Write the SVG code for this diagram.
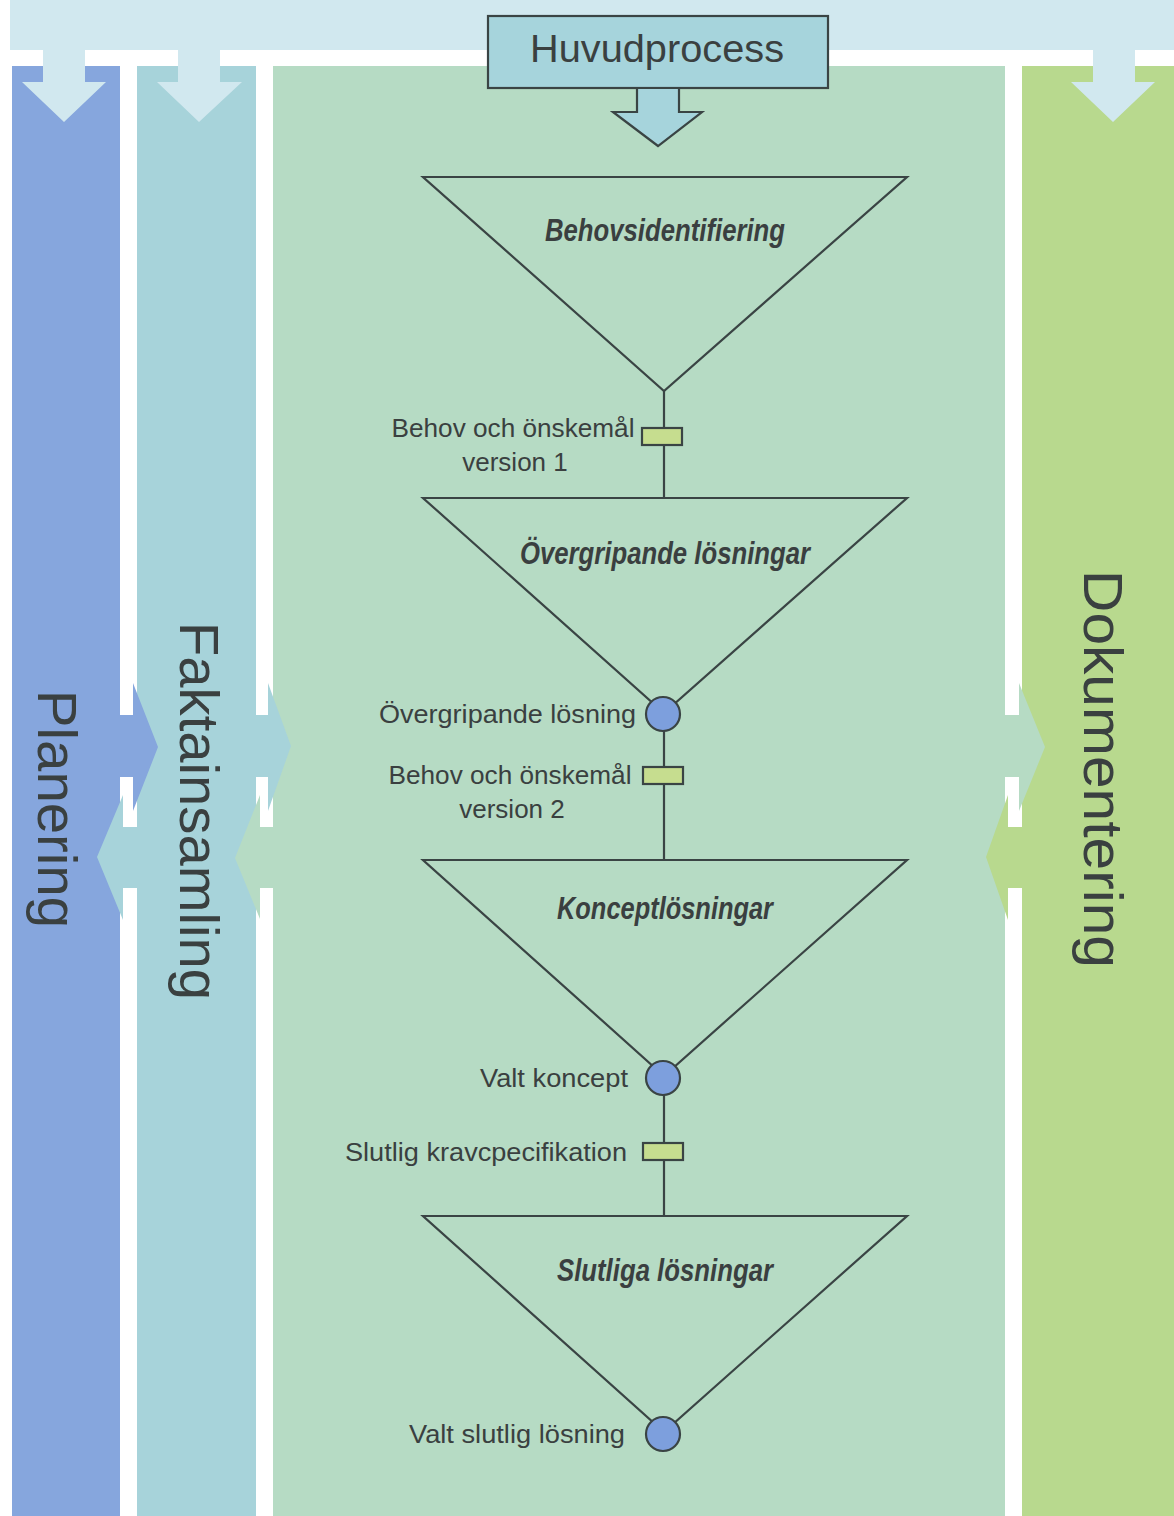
<svg xmlns="http://www.w3.org/2000/svg" width="1174" height="1516" viewBox="0 0 1174 1516">
<style>
.lbl{font-family:"Liberation Sans",Arial,sans-serif;font-size:26px;fill:#3a4040}
.ttl{font-family:"Liberation Sans Narrow","Liberation Sans",Arial,sans-serif;font-size:31px;font-weight:bold;font-style:italic;fill:#3a3f40}
.col{font-family:"Liberation Sans",Arial,sans-serif;font-size:56px;fill:#3a4040}
.tri{fill:none;stroke:#3a4444;stroke-width:2.2;stroke-linejoin:miter}
.line{stroke:#3a4444;stroke-width:2.2;fill:none}
.pt{fill:#7d9fdd;stroke:#3a4444;stroke-width:2.2}
.doc{fill:#c6dd8f;stroke:#3a4444;stroke-width:2.2}
</style>
<rect x="0" y="0" width="1174" height="1516" fill="#ffffff"/>
<g id="band">
<rect x="10" y="0" width="1164" height="50" fill="#d1e8ef"/>
</g>
<g id="planering">
<rect x="12" y="66" width="108" height="1450" fill="#86a6dd"/>
<polygon points="43,48 85,48 85,82 106,82 64,122 22,82 43,82" fill="#d1e8ef"/>
<text class="col" transform="translate(38,809) rotate(90)" text-anchor="middle" textLength="238" lengthAdjust="spacingAndGlyphs">Planering</text>
</g>
<g id="faktainsamling">
<rect x="137" y="66" width="119" height="1450" fill="#a7d3da"/>
<polygon points="178,48 220,48 220,82 242,82 199,122 157,82 178,82" fill="#d1e8ef"/>
<text class="col" transform="translate(180,811) rotate(90)" text-anchor="middle" textLength="378" lengthAdjust="spacingAndGlyphs">Faktainsamling</text>
</g>
<g id="huvudprocess-column">
<rect x="273" y="66" width="732" height="1450" fill="#b6dbc4"/>
</g>
<g id="dokumentering">
<rect x="1022" y="66" width="152" height="1450" fill="#b8d98e"/>
<polygon points="1093,48 1135,48 1135,82 1155,82 1113,122 1071,82 1093,82" fill="#d1e8ef"/>
<text class="col" transform="translate(1084,769) rotate(90)" text-anchor="middle" textLength="398" lengthAdjust="spacingAndGlyphs">Dokumentering</text>
</g>
<g id="exchange-arrows">
<polygon points="119,715 133,715 133,683 158,747 133,811 133,777 119,777" fill="#86a6dd"/>
<polygon points="138,827 123,827 123,795 97,857 123,920 123,888 138,888" fill="#a7d3da"/>
<polygon points="255,715 268,715 268,683 291,746 268,811 268,777 255,777" fill="#a7d3da"/>
<polygon points="274,827 260,827 260,795 235,858 260,919 260,888 274,888" fill="#b6dbc4"/>
<polygon points="1004,715 1019,715 1019,683 1045,747 1019,811 1019,777 1004,777" fill="#b6dbc4"/>
<polygon points="1023,827 1008,827 1008,795 986,857 1008,920 1008,888 1023,888" fill="#b8d98e"/>
</g>
<g id="huvudprocess">
<rect x="488" y="16" width="340" height="72" fill="#a6d4dc" stroke="#3a4444" stroke-width="2.2"/>
<polygon points="637,88 637,112 613,112 658,146 702,112 679,112 679,88" fill="#a6d4dc" stroke="#3a4444" stroke-width="2.2"/>
<text x="657" y="62" font-family="Liberation Sans, Arial, sans-serif" font-size="39" fill="#3a4040" text-anchor="middle" textLength="254" lengthAdjust="spacingAndGlyphs">Huvudprocess</text>
</g>
<g id="connectors">
<line class="line" x1="664" y1="390" x2="664" y2="498"/>
<line class="line" x1="664" y1="731" x2="664" y2="860"/>
<line class="line" x1="664" y1="1095" x2="664" y2="1216"/>
</g>
<g id="behovsidentifiering">
<polygon class="tri" points="423,177 907,177 664,391"/>
<text class="ttl" x="665" y="241" text-anchor="middle" textLength="240" lengthAdjust="spacingAndGlyphs">Behovsidentifiering</text>
</g>
<g id="behov-v1">
<rect class="doc" x="642" y="428" width="40" height="17"/>
<text class="lbl" x="513" y="437" text-anchor="middle" textLength="243" lengthAdjust="spacingAndGlyphs">Behov och önskemål</text>
<text class="lbl" x="515" y="471" text-anchor="middle">version 1</text>
</g>
<g id="overgripande-losningar">
<polygon class="tri" points="423,498 907,498 664,713"/>
<text class="ttl" x="665" y="564" text-anchor="middle" textLength="290" lengthAdjust="spacingAndGlyphs">Övergripande lösningar</text>
</g>
<g id="overgripande-losning">
<circle class="pt" cx="663" cy="714" r="17"/>
<text class="lbl" x="636" y="723" text-anchor="end" textLength="257" lengthAdjust="spacingAndGlyphs">Övergripande lösning</text>
</g>
<g id="behov-v2">
<rect class="doc" x="643" y="767" width="40" height="17"/>
<text class="lbl" x="510" y="784" text-anchor="middle" textLength="243" lengthAdjust="spacingAndGlyphs">Behov och önskemål</text>
<text class="lbl" x="512" y="818" text-anchor="middle">version 2</text>
</g>
<g id="konceptlosningar">
<polygon class="tri" points="423,860 907,860 664,1076"/>
<text class="ttl" x="665" y="919" text-anchor="middle" textLength="216" lengthAdjust="spacingAndGlyphs">Konceptlösningar</text>
</g>
<g id="valt-koncept">
<circle class="pt" cx="663" cy="1078" r="17"/>
<text class="lbl" x="628" y="1087" text-anchor="end" textLength="148" lengthAdjust="spacingAndGlyphs">Valt koncept</text>
</g>
<g id="slutlig-kravspec">
<rect class="doc" x="643" y="1143" width="40" height="17"/>
<text class="lbl" x="627" y="1161" text-anchor="end" textLength="282" lengthAdjust="spacingAndGlyphs">Slutlig kravcpecifikation</text>
</g>
<g id="slutliga-losningar">
<polygon class="tri" points="423,1216 907,1216 664,1432"/>
<text class="ttl" x="665" y="1281" text-anchor="middle" textLength="216" lengthAdjust="spacingAndGlyphs">Slutliga lösningar</text>
</g>
<g id="valt-slutlig-losning">
<circle class="pt" cx="663" cy="1434" r="17"/>
<text class="lbl" x="625" y="1443" text-anchor="end" textLength="216" lengthAdjust="spacingAndGlyphs">Valt slutlig lösning</text>
</g>
</svg>
